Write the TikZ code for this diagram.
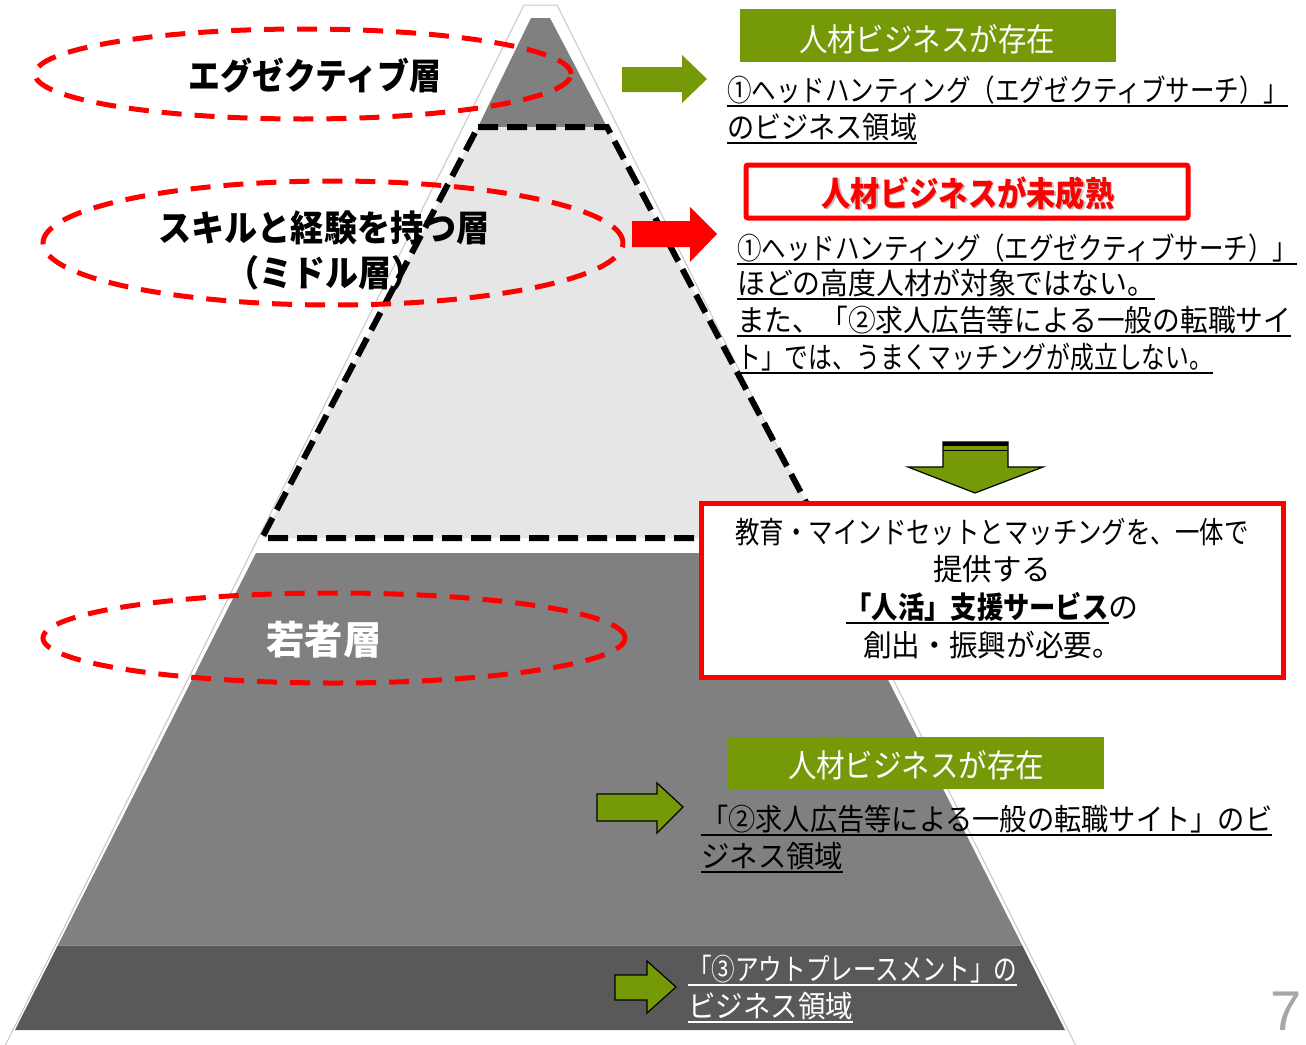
\documentclass[tikz,border=0pt]{standalone}
\usepackage{fontspec}
\setmainfont{Noto Sans CJK JP}
\newfontfamily\numfont{Liberation Sans}
\definecolor{pgreen}{RGB}{118,153,8}
\definecolor{pred}{RGB}{255,0,0}
\definecolor{pgray}{RGB}{128,128,128}
\definecolor{plight}{RGB}{230,230,230}
\definecolor{pdark}{RGB}{89,89,89}
\newcommand\fs[1]{\fontsize{#1}{#1}\selectfont}
\newcommand\fw[2]{\resizebox{#1pt}{\height}{#2}}
\newcommand\uln[1]{\setbox0=\hbox{#1}\rlap{\rule[-5.5pt]{\wd0}{2pt}}\box0}
\tikzset{
  txt/.style={anchor=base west, inner sep=0pt, font=\fs{30}},
  ctxt/.style={anchor=base, inner sep=0pt, font=\fs{30}},
  lbl/.style={anchor=base, inner sep=0pt, font=\fs{36}\bfseries},
  redell/.style={draw=pred, line width=5pt, dash pattern=on 20pt off 13pt},
  garrow/.style={fill=pgreen, draw=black, line width=1.2pt, line join=miter},
  gbox/.style={fill=pgreen, draw=none, inner sep=0pt, minimum width=376pt, minimum height=53pt},
  gtitle/.style={anchor=base, inner sep=0pt, font=\fs{32}, text=white},
}
\begin{document}
\begin{tikzpicture}[x=1pt,y=-1pt]
\useasboundingbox (0,0) rectangle (1306,1044);
\fill[white] (0,0) rectangle (1306,1044);
% pyramid silhouette
\filldraw[fill=white, draw=black!22, line width=1pt] (524,5) -- (557,5) -- (1078,1050) -- (3,1050) -- cycle;
% top section
\fill[pgray] (531,18) -- (550,18) -- (607,127) -- (478,127) -- cycle;
% middle section
\fill[plight] (478,127) -- (607,127) -- (825,538) -- (262,538) -- cycle;
\draw[black, line width=6pt, dash pattern=on 20pt off 9pt] (478,127) -- (607,127) -- (825,538) -- (262,538) -- cycle;
% lower section
\fill[pgray] (256,553) -- (824,553) -- (1022,945) -- (58,945) -- cycle;
\fill[pdark] (58,945) -- (1022,945) -- (1065,1030) -- (15,1030) -- cycle;
\draw[black!45, line width=0.8pt] (58,945) -- (1022,945);
% red dashed ellipses
\draw[redell] (303,74) ellipse [x radius=268pt, y radius=45pt];
\draw[redell] (333,243) ellipse [x radius=290pt, y radius=62pt];
\draw[redell] (334,638) ellipse [x radius=291pt, y radius=45pt];
% left labels
\node[lbl] (lexec) at (315,89) {\fw{253}{エグゼクティブ層}};
\node[lbl] (lmid1) at (324,241) {\fw{331}{スキルと経験を持つ層}};
\node[lbl] (lmid2) at (325,286) {\fw{198}{（ミドル層）}};
\node[lbl, text=white, font=\fs{39}\bfseries] (lyoung) at (324,654) {\fw{115}{若者層}};
% arrows
\fill[pgreen] (622,67) -- (682,67) -- (682,55) -- (707,79) -- (682,103) -- (682,92) -- (622,92) -- cycle;
\fill[pred] (632,221) -- (690,221) -- (690,207) -- (717,234) -- (690,262) -- (690,247) -- (632,247) -- cycle;
\draw[garrow] (943,442) -- (1008,442) -- (1008,467) -- (1043,467) -- (975,493) -- (908,467) -- (943,467) -- cycle;
\draw[black, line width=4pt] (943,443.5) -- (1008,443.5);
\draw[black, line width=1.5pt] (943,450.5) -- (1008,450.5);
\draw[garrow] (597,794) -- (657,794) -- (657,783) -- (683,807) -- (657,833) -- (657,821) -- (597,821) -- cycle;
\draw[garrow] (615,975) -- (647,975) -- (647,961) -- (676,987) -- (647,1013) -- (647,1000) -- (615,1000) -- cycle;
% top right: business exists
\node[gbox] (g1) at (927.5,35.5) {};
\node[gtitle] (g1t) at (927,52) {\fw{256}{人材ビジネスが存在}};
\node[txt] (t1a) at (727,101.5) {\uln{\fw{561}{①ヘッドハンティング（エグゼクティブサーチ）」}}};
\node[txt] (t1b) at (727,138.5) {\uln{\fw{190}{のビジネス領域}}};
% immature
\draw[pred, line width=5pt, rounded corners=2pt] (746,165) rectangle (1188,218);
\node[anchor=base, inner sep=0pt, font=\fs{34}\bfseries, text=black, opacity=0.25] (rtsh) at (969.5,207.5) {\fw{293}{人材ビジネスが未成熟}};
\node[anchor=base, inner sep=0pt, font=\fs{34}\bfseries, text=pred] (rt) at (968,206) {\fw{293}{人材ビジネスが未成熟}};
\node[txt] (t2a) at (737,259.5) {\uln{\fw{560}{①ヘッドハンティング（エグゼクティブサーチ）」}}};
\node[txt] (t2b) at (737,294.5) {\uln{\fw{418}{ほどの高度人材が対象ではない。}}};
\node[txt] (t2c) at (737,331.5) {\uln{\fw{554}{また、「②求人広告等による一般の転職サイ}}};
\node[txt] (t2d) at (737,368.5) {\uln{\fw{476}{ト」では、うまくマッチングが成立しない。}}};
% big red box
\filldraw[fill=white, draw=pred, line width=5pt] (701,503) rectangle (1283,677);
\node[ctxt] (b1) at (992,543) {\fw{513}{教育・マインドセットとマッチングを、一体で}};
\node[ctxt] (b2) at (992,580) {\fw{118}{提供する}};
\node[ctxt] (b3) at (992,618) {\uln{\fw{263}{\bfseries 「人活」支援サービス}}の};
\node[ctxt] (b4) at (992,656) {\fw{258}{創出・振興が必要。}};
% lower: business exists
\node[gbox, minimum height=52pt] (g2) at (916,763) {};
\node[gtitle] (g2t) at (916,777) {\fw{256}{人材ビジネスが存在}};
\node[txt] (t3a) at (701,830) {\uln{\fw{571}{「②求人広告等による一般の転職サイト」のビ}}};
\node[txt] (t3b) at (701,867) {\uln{\fw{142}{ジネス領域}}};
% outplacement
\node[txt, text=white] (t4a) at (688,980) {\uln{\fw{329}{「③アウトプレースメント」の}}};
\node[txt, text=white] (t4b) at (688,1017) {\uln{\fw{165}{ビジネス領域}}};
% page number
\node[anchor=base west, inner sep=0pt, text=black!35, font=\numfont\fs{56}] (pnum) at (1270,1030) {7};
\end{tikzpicture}
\end{document}
